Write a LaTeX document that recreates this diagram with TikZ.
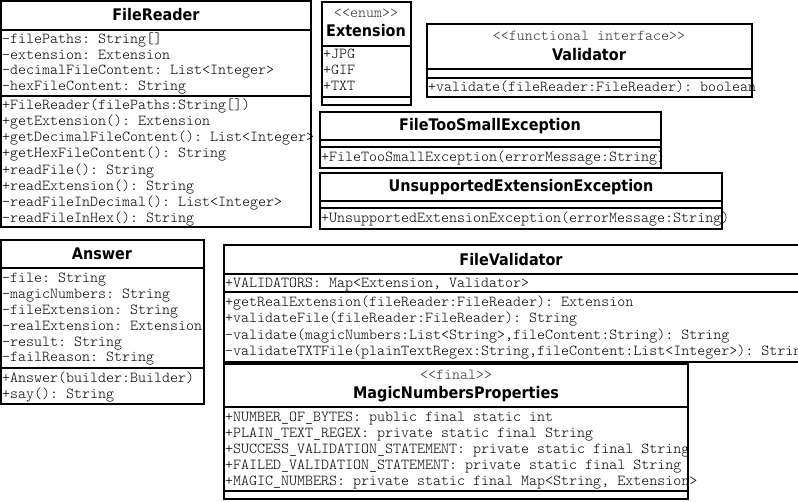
\documentclass[tikz,border=0pt]{standalone}
\usepackage{fontspec}
\setmonofont{Latin Modern Mono Light}
\newfontfamily\headfont{DejaVu Sans Condensed}
\usepackage{tikz}
\usetikzlibrary{positioning}

\begin{document}
\begin{tikzpicture}[x=1pt, y=-1pt,
    box/.style={draw=black, fill=white, line width=1.6pt},
    sep/.style={draw=black, line width=1.6pt},
    clsname/.style={font=\headfont\bfseries\fontsize{16}{18}\selectfont, inner sep=0pt},
    member/.style={font=\ttfamily\fontsize{15.24}{16}\selectfont, anchor=west, inner sep=0pt, text height=10.5pt, text depth=2pt},
    stereo/.style={member, anchor=center, text=black!80}]
                \useasboundingbox (0,0) rectangle (798,501);
                \clip (0,0) rectangle (798,501);

                % FileReader
                \draw[box] (1,1) rectangle (311,227);
                \draw[sep] (1,30) -- (311,30);
                \draw[sep] (1,96) -- (311,96);
                \node (frName) at (156,15) [clsname] {FileReader};
                \node (frA1) at (2,39) [member] {-filePaths: String[]};
                \node (frA2) at (2,55) [member] {-extension: Extension};
                \node (frA3) at (2,70) [member] {-decimalFileContent: List<Integer>};
                \node (frA4) at (2,86) [member] {-hexFileContent: String};
                \node (frM1) at (2,105) [member] {+FileReader(filePaths:String[])};
                \node (frM2) at (2,121) [member] {+getExtension(): Extension};
                \node (frM3) at (2,137) [member] {+getDecimalFileContent(): List<Integer>};
                \node (frM4) at (2,153) [member] {+getHexFileContent(): String};
                \node (frM5) at (2,170) [member] {+readFile(): String};
                \node (frM6) at (2,186) [member] {+readExtension(): String};
                \node (frM7) at (2,202) [member] {-readFileInDecimal(): List<Integer>};
                \node (frM8) at (2,218) [member] {-readFileInHex(): String};

                % Extension
                \draw[box] (322,2) rectangle (411,105);
                \draw[sep] (322,46) -- (411,46);
                \draw[sep] (322,97) -- (411,97);
                \node (extStereo) at (366,13) [stereo] {<<enum>>};
                \node (extName) at (366,31) [clsname] {Extension};
                \node (extJpg) at (323,54) [member] {+JPG};
                \node (extGif) at (323,70) [member] {+GIF};
                \node (extTxt) at (323,86) [member] {+TXT};

                % Validator
                \draw[box] (427,24) rectangle (752,97);
                \draw[sep] (427,69) -- (752,69);
                \draw[sep] (427,78) -- (752,78);
                \node (valStereo) at (589,36) [stereo] {<<functional interface>>};
                \node (valName) at (589,55) [clsname] {Validator};
                \node (valM1) at (428,87) [member] {+validate(fileReader:FileReader): boolean};

                % FileTooSmallException
                \draw[box] (320,112) rectangle (661,168);
                \draw[sep] (320,140) -- (661,140);
                \draw[sep] (320,147) -- (661,147);
                \node (ftsName) at (490,126) [clsname] {FileTooSmallException};
                \node (ftsM1) at (321,157) [member] {+FileTooSmallException(errorMessage:String)};

                % UnsupportedExtensionException
                \draw[box] (320,173) rectangle (722,229);
                \draw[sep] (320,201) -- (722,201);
                \draw[sep] (320,208) -- (722,208);
                \node (ueeName) at (521,187) [clsname] {UnsupportedExtensionException};
                \node (ueeM1) at (321,218) [member] {+UnsupportedExtensionException(errorMessage:String)};

                % Answer
                \draw[box] (1,240) rectangle (204,404);
                \draw[sep] (1,268) -- (204,268);
                \draw[sep] (1,368) -- (204,368);
                \node (ansName) at (102,254) [clsname] {Answer};
                \node (ansA1) at (2,278) [member] {-file: String};
                \node (ansA2) at (2,294) [member] {-magicNumbers: String};
                \node (ansA3) at (2,310) [member] {-fileExtension: String};
                \node (ansA4) at (2,326) [member] {-realExtension: Extension};
                \node (ansA5) at (2,342) [member] {-result: String};
                \node (ansA6) at (2,357) [member] {-failReason: String};
                \node (ansM1) at (2,378) [member] {+Answer(builder:Builder)};
                \node (ansM2) at (2,394) [member] {+say(): String};

                % FileValidator
                \draw[box] (224,245) rectangle (800,362);
                \draw[sep] (224,274) -- (800,274);
                \draw[sep] (224,292) -- (800,292);
                \node (fvName) at (511,260) [clsname] {FileValidator};
                \node (fvA1) at (225,283) [member] {+VALIDATORS: Map<Extension, Validator>};
                \node (fvM1) at (225,302) [member] {+getRealExtension(fileReader:FileReader): Extension};
                \node (fvM2) at (225,318) [member] {+validateFile(fileReader:FileReader): String};
                \node (fvM3) at (225,335) [member] {-validate(magicNumbers:List<String>,fileContent:String): String};
                \node (fvM4) at (225,351) [member] {-validateTXTFile(plainTextRegex:String,fileContent:List<Integer>): String};

                % MagicNumbersProperties
                \draw[box] (224,364) rectangle (688,499);
                \draw[sep] (224,407) -- (688,407);
                \draw[sep] (224,491) -- (688,491);
                \node (mnpStereo) at (456,375) [stereo] {<<final>>};
                \node (mnpName) at (456,394) [clsname] {MagicNumbersProperties};
                \node (mnpA1) at (225,417) [member] {+NUMBER\_OF\_BYTES: public final static int};
                \node (mnpA2) at (225,433) [member] {+PLAIN\_TEXT\_REGEX: private static final String};
                \node (mnpA3) at (225,449) [member] {+SUCCESS\_VALIDATION\_STATEMENT: private static final String};
                \node (mnpA4) at (225,465) [member] {+FAILED\_VALIDATION\_STATEMENT: private static final String};
                \node (mnpA5) at (225,481) [member] {+MAGIC\_NUMBERS: private static final Map<String, Extension>};
            \end{tikzpicture}
\end{document}
